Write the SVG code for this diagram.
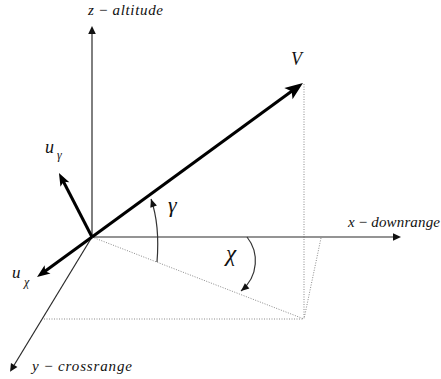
<svg xmlns="http://www.w3.org/2000/svg" width="441" height="379" viewBox="0 0 441 379">
<style>
.axis{stroke:#2a2a2a;stroke-width:1.2;fill:none}
.vec{stroke:#000;stroke-width:3;fill:none}
.dot{stroke:#8a8a8a;stroke-width:1;stroke-dasharray:1 1.5;fill:none}
.arc{stroke:#333;stroke-width:1.2;fill:none}
.lbl{font-family:'Liberation Serif','DejaVu Serif',serif;font-style:italic;fill:#111}
.up{font-style:normal}
</style>
<defs>
<marker id="ax" markerUnits="userSpaceOnUse" markerWidth="20" markerHeight="20" viewBox="-10 -10 20 20" refX="0" refY="0" orient="auto" overflow="visible">
<path d="M8,0 L0,-3.8 L0,3.8 z" fill="#111"/>
</marker>
<marker id="big" markerUnits="userSpaceOnUse" markerWidth="40" markerHeight="40" viewBox="-20 -20 40 40" refX="0" refY="0" orient="auto" overflow="visible">
<path d="M9,0 L-9,-7 L-5,0 L-9,7 z" fill="#000"/>
</marker>
<marker id="med" markerUnits="userSpaceOnUse" markerWidth="30" markerHeight="30" viewBox="-15 -15 30 30" refX="0" refY="0" orient="auto" overflow="visible">
<path d="M6,0 L-7,-5 L-4,0 L-7,5 z" fill="#000"/>
</marker>
<marker id="sm" markerUnits="userSpaceOnUse" markerWidth="20" markerHeight="20" viewBox="-10 -10 20 20" refX="0" refY="0" orient="auto" overflow="visible">
<path d="M0,0 L-8,-3.5 L-8,3.5 z" fill="#111"/>
</marker>
</defs>

<g id="connectors">
<line class="dot" x1="92" y1="237" x2="304" y2="319"/>
<line class="dot" x1="44" y1="319" x2="304" y2="319"/>
<line class="dot" x1="304" y1="84" x2="304" y2="319"/>
<line class="dot" x1="321" y1="238" x2="304" y2="319"/>
<line class="axis" x1="92" y1="237" x2="92" y2="34" marker-end="url(#ax)"/>
<line class="axis" x1="92" y1="237" x2="393" y2="237" marker-end="url(#ax)"/>
<line class="axis" x1="92" y1="237" x2="14.2" y2="365" marker-end="url(#ax)"/>
<line class="vec" x1="92" y1="237" x2="295.7" y2="88.3" marker-end="url(#big)"/>
<line class="vec" x1="92" y1="237" x2="61.7" y2="178.3" marker-end="url(#med)"/>
<line class="vec" x1="92" y1="237" x2="41.9" y2="273.5" marker-end="url(#med)"/>
<path class="arc" d="M157,262 Q160,225 151,199" marker-end="url(#sm)"/>
<path class="arc" d="M247,237 C259,252 259,276 241,291" marker-end="url(#sm)"/>
</g>

<g id="z-axis-label" class="lbl" font-family="Liberation Serif, DejaVu Serif, serif" font-style="italic"><text x="88" y="15" font-size="15" textLength="75" lengthAdjust="spacing">z <tspan class="up" font-style="normal">−</tspan> altitude</text></g>
<g id="x-axis-label" class="lbl" font-family="Liberation Serif, DejaVu Serif, serif" font-style="italic"><text x="348" y="227" font-size="15" textLength="92" lengthAdjust="spacing">x <tspan class="up" font-style="normal">−</tspan> downrange</text></g>
<g id="y-axis-label" class="lbl" font-family="Liberation Serif, DejaVu Serif, serif" font-style="italic"><text x="32" y="371" font-size="15" textLength="100" lengthAdjust="spacing">y <tspan class="up" font-style="normal">−</tspan> crossrange</text></g>
<g id="V-label" class="lbl" font-family="Liberation Serif, DejaVu Serif, serif" font-style="italic"><text x="291" y="65" font-size="18">V</text></g>
<g id="u-gamma-label" class="lbl" font-family="Liberation Serif, DejaVu Serif, serif" font-style="italic"><text x="45" y="153" font-size="18">u</text><text x="57" y="159" font-size="12">γ</text></g>
<g id="u-chi-label" class="lbl" font-family="Liberation Serif, DejaVu Serif, serif" font-style="italic"><text x="12" y="278" font-size="17">u</text><text x="24" y="286" font-size="12">χ</text></g>
<g id="gamma-label" class="lbl" font-family="Liberation Serif, DejaVu Serif, serif" font-style="italic"><text x="168" y="212" font-size="22">γ</text></g>
<g id="chi-label" class="lbl" font-family="Liberation Serif, DejaVu Serif, serif" font-style="italic"><text x="226" y="261" font-size="23">χ</text></g>
</svg>
